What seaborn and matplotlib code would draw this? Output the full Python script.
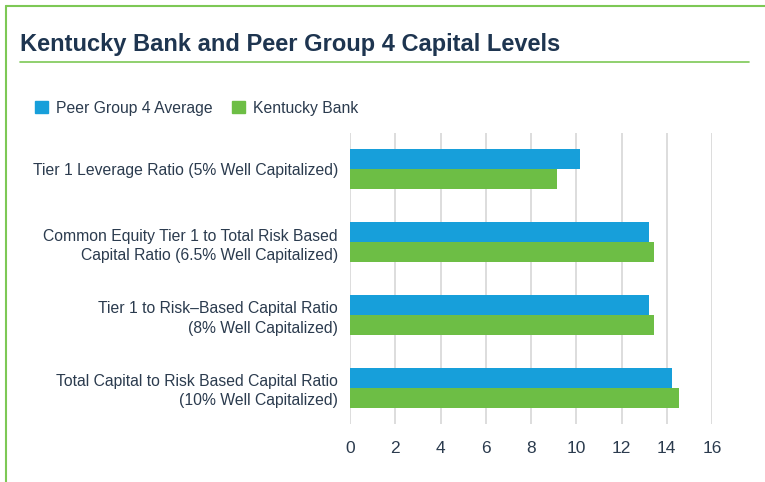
import matplotlib
matplotlib.use("Agg")
import matplotlib.pyplot as plt
import matplotlib.lines as mlines
import matplotlib.patches as mpatches
import seaborn as sns
import pandas as pd

# data
categories = [
    "Tier 1 Leverage Ratio (5% Well Capitalized)",
    "Common Equity Tier 1 to Total Risk Based\nCapital Ratio (6.5% Well Capitalized)",
    "Tier 1 to Risk\u2013Based Capital Ratio\n(8% Well Capitalized)",
    "Total Capital to Risk Based Capital Ratio\n(10% Well Capitalized)",
]
peer_avg = [10.15, 13.2, 13.2, 14.25]
kentucky = [9.15, 13.45, 13.45, 14.55]
series_names = ["Peer Group 4 Average", "Kentucky Bank"]
x_ticks = [0, 2, 4, 6, 8, 10, 12, 14, 16]

blue = "#179FDA"
green = "#6DBE45"
text_col = "#2B3B4E"
title_col = "#1E3550"
line_green = "#7DC855"

df = pd.DataFrame({
    "cat": categories * 2,
    "value": peer_avg + kentucky,
    "series": [series_names[0]] * 4 + [series_names[1]] * 4,
})

sns.set_style("white")
plt.rcParams["font.family"] = ["Liberation Sans", "DejaVu Sans"]

W, H = 765, 482
fig = plt.figure(figsize=(W / 100, H / 100), dpi=100)

# axes box in pixel coords
left, right, top, bottom = 350, 712, 133, 424
ax = fig.add_axes([left / W, 1 - bottom / H, (right - left) / W, (bottom - top) / H])

sns.barplot(data=df, x="value", y="cat", hue="series", orient="h",
            palette=[blue, green], width=0.55, ax=ax, legend=False,
            saturation=1, linewidth=0)

ax.set_xlim(0, 16)
ax.set_ylim(3.5, -0.5)
ax.set_xticks(x_ticks)
ax.set_xticklabels([str(t) for t in x_ticks])
ax.grid(axis="x", color="#DADADA", linewidth=1.3)
ax.set_axisbelow(True)
for s in ax.spines.values():
    s.set_visible(False)
ax.set_xlabel("")
ax.set_ylabel("")
ax.tick_params(axis="x", length=0, pad=12, labelsize=12.5, labelcolor=text_col)
ax.tick_params(axis="y", length=0, pad=8.6, labelsize=11.3, labelcolor=text_col)
for lab in ax.get_yticklabels():
    lab.set_linespacing(1.35)

# title and rules
fig.text(20 / W, 1 - 45 / H, "Kentucky Bank and Peer Group 4 Capital Levels",
         fontsize=17, fontweight="bold", color=title_col, va="center", ha="left")
fig.add_artist(mlines.Line2D([20 / W, 749 / W], [1 - 62 / H, 1 - 62 / H],
                             color=line_green, linewidth=1.2))
fig.add_artist(mlines.Line2D([5.5 / W, 1.0], [1 - 6 / H, 1 - 6 / H],
                             color=line_green, linewidth=1.5))
fig.add_artist(mlines.Line2D([5.5 / W, 5.5 / W], [0, 1 - 6 / H],
                             color=line_green, linewidth=1.5))

# legend
handles = [mpatches.Patch(color=blue, label=series_names[0]),
           mpatches.Patch(color=green, label=series_names[1])]
fig.legend(handles=handles, loc="center left", bbox_to_anchor=(35 / W, 1 - 108 / H),
           ncol=2, frameon=False, fontsize=11.3, handlelength=0.85, handleheight=0.85,
           handletextpad=0.5, columnspacing=1.2, labelcolor=text_col,
           borderpad=0, borderaxespad=0)

fig.savefig("out.png", dpi=100)
